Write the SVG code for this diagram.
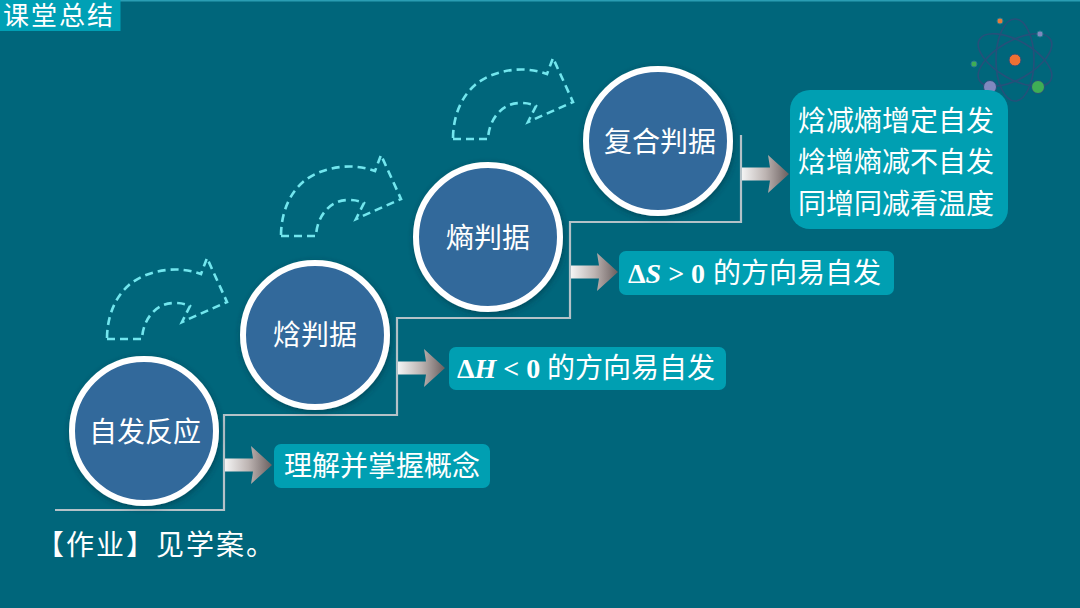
<svg xmlns="http://www.w3.org/2000/svg" width="1080" height="608" viewBox="0 0 1080 608">
<style>
text{font-family:"Noto Sans CJK SC","Liberation Sans",sans-serif;font-size:28px;fill:#fff}
.c{text-anchor:middle}
.m{font-family:"Liberation Serif","Noto Sans CJK SC",serif;font-weight:bold}
.i{font-style:italic}
.box{fill:#009fb2}
.node{fill:#33699b;stroke:#fff;stroke-width:6;filter:url(#sh)}
.curve{fill:none;stroke:#72e6ee;stroke-width:2.600;stroke-dasharray:8 5}
.orb{fill:none;stroke:#26507a;stroke-width:1.600}
</style>
<defs>
<filter id="sh" x="-20%" y="-20%" width="140%" height="140%"><feDropShadow dx="1" dy="2" stdDeviation="3" flood-color="#00303c" flood-opacity=".55"/></filter>
<linearGradient id="ag" x1="0" y1="0" x2="1" y2="0"><stop offset="0" stop-color="#f4f4f4"/><stop offset=".5" stop-color="#bdb4b2"/><stop offset="1" stop-color="#6a5f5f"/></linearGradient>
<path id="curve" d="M453 139H488C489 118 503 103 520 103C527 103 532 104 536 106L528 122L573 102L553 58L547 74C520 64 490 72 475 85C460 98 453 118 453 139Z"/>
<path id="arrow" d="M0-6.500H28L26-19L47 0L26 19L28 6.500H0Z"/>
</defs>
<rect width="1080" height="608" fill="#00667b"/>
<rect width="1080" height="1.500" fill="#2a9db3"/>
<g id="title"><rect width="120.500" height="31" fill="#00a0b5"/><text x="3" y="25" style="font-size:26px;letter-spacing:2px">课堂总结</text></g>
<g id="atom">
<ellipse class="orb" cx="1015" cy="60" rx="19" ry="41"/>
<ellipse class="orb" cx="1015" cy="60" rx="19" ry="41" transform="rotate(60 1015 60)"/>
<ellipse class="orb" cx="1015" cy="60" rx="19" ry="41" transform="rotate(-60 1015 60)"/>
<circle cx="1015" cy="60" r="6" fill="#ee7033" stroke="#26507a"/>
<circle cx="990" cy="87" r="6.500" fill="#8088bf" stroke="#26507a"/>
<circle cx="1038" cy="87" r="6.500" fill="#3fae55" stroke="#26507a"/>
<circle cx="1000" cy="21" r="3" fill="#e67c3a" stroke="#2a7a90"/>
<circle cx="1040" cy="34" r="3" fill="#8088bf" stroke="#2a7a90"/>
<circle cx="974" cy="64" r="3" fill="#3fae55" stroke="#2a7a90"/>
</g>
<g id="connectors">
<path d="M55 510H224V415H397V318H570V222H741V135" fill="none" stroke="#b4c2c8" stroke-width="2.200"/>
<use href="#arrow" transform="translate(225 465)" fill="url(#ag)"/>
<use href="#arrow" transform="translate(398 368)" fill="url(#ag)"/>
<use href="#arrow" transform="translate(571 272)" fill="url(#ag)"/>
<use href="#arrow" transform="translate(742 174)" fill="url(#ag)"/>
<use href="#curve" class="curve"/>
<use href="#curve" class="curve" transform="translate(-172 97)"/>
<use href="#curve" class="curve" transform="translate(-346 200)"/>
</g>
<g id="n1"><circle class="node" cx="144" cy="431" r="72"/><text class="c" x="145" y="442">自发反应</text></g>
<g id="n2"><circle class="node" cx="315" cy="335" r="72"/><text class="c" x="315" y="345">焓判据</text></g>
<g id="n3"><circle class="node" cx="488" cy="237" r="72"/><text class="c" x="488" y="248">熵判据</text></g>
<g id="n4"><circle class="node" cx="658" cy="141" r="72"/><text class="c" x="660" y="152">复合判据</text></g>
<g id="b1"><rect class="box" x="274" y="444" width="216" height="44" rx="7"/><text x="284" y="476">理解并掌握概念</text></g>
<g id="b2"><rect class="box" x="449" y="347" width="277" height="43" rx="7"/><text class="m" x="457" y="378">Δ<tspan class="i">H</tspan> &lt; 0</text><text x="547" y="378">的方向易自发</text></g>
<g id="b3"><rect class="box" x="619" y="251" width="275" height="44" rx="7"/><text class="m" x="628" y="283">Δ<tspan class="i">S</tspan> &gt; 0</text><text x="713" y="283">的方向易自发</text></g>
<g id="b4"><rect class="box" x="790" y="90" width="218" height="139" rx="20"/><text x="798" y="131">焓减熵增定自发</text><text x="798" y="172">焓增熵减不自发</text><text x="798" y="214">同增同减看温度</text></g>
<text id="hw" x="36" y="555" style="letter-spacing:2px">【作业】见学案。</text>
</svg>
